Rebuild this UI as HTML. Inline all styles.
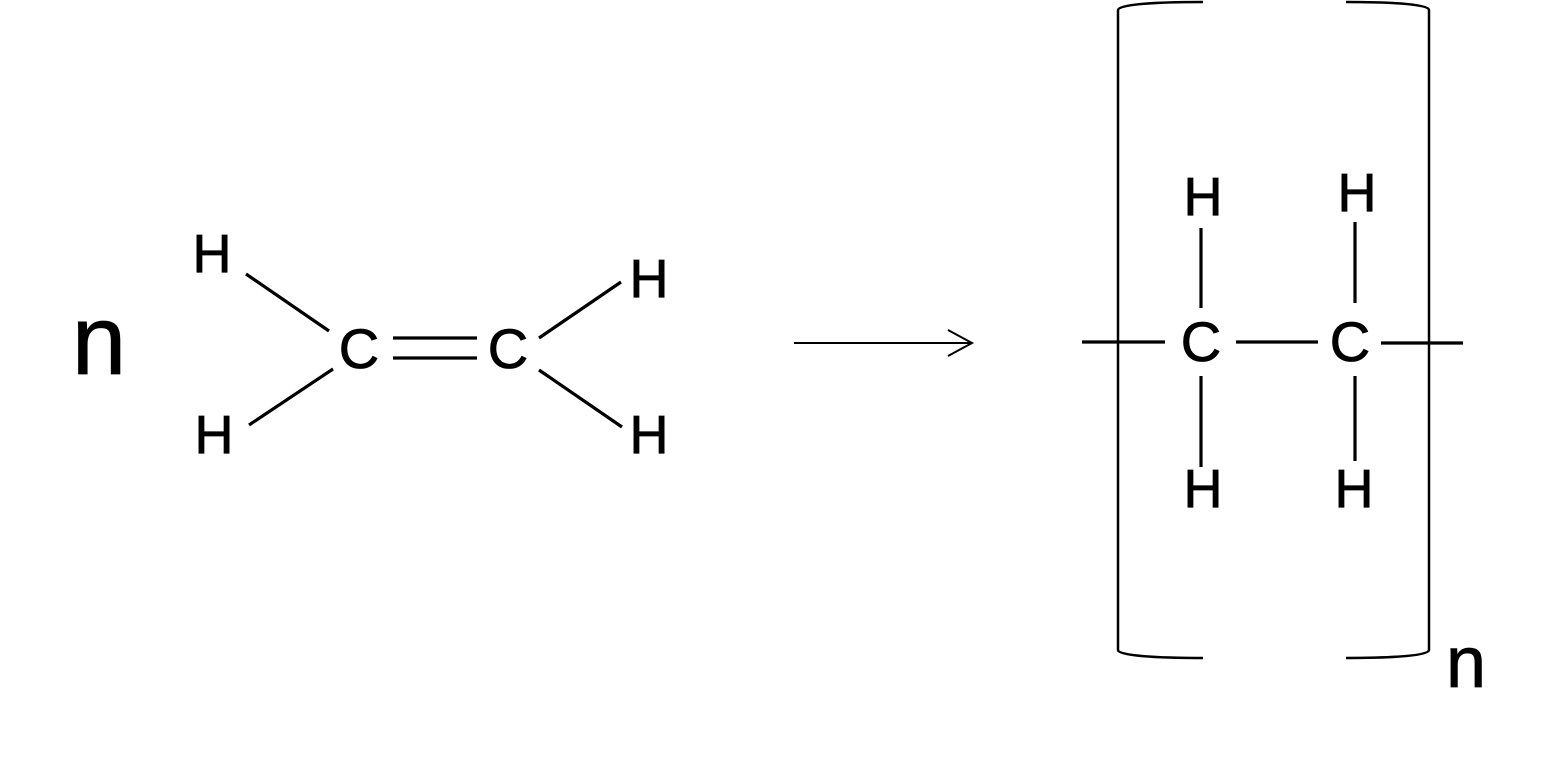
<!DOCTYPE html>
<html><head><meta charset="utf-8"><style>html,body{margin:0;padding:0;background:#fff}svg{display:block}</style></head>
<body>
<svg width="1541" height="760" viewBox="0 0 1541 760" xmlns="http://www.w3.org/2000/svg">
<g font-family="Liberation Sans, sans-serif" fill="#000" stroke="#000" stroke-width="0.8" text-anchor="middle">
<text x="99" y="374" font-size="98">n</text>
<text x="212" y="272" font-size="54">H</text>
<text x="214" y="453" font-size="54">H</text>
<text x="359" y="368" font-size="56">C</text>
<text x="508" y="368" font-size="56">C</text>
<text x="649" y="297" font-size="54">H</text>
<text x="649" y="453" font-size="54">H</text>
<text x="1203" y="215" font-size="54">H</text>
<text x="1357" y="211" font-size="54">H</text>
<text x="1201" y="361" font-size="56">C</text>
<text x="1350" y="361" font-size="56">C</text>
<text x="1203" y="507" font-size="54">H</text>
<text x="1354" y="507" font-size="54">H</text>
<text x="1466" y="687" font-size="72">n</text>
</g>
<g stroke="#000" stroke-width="3.2" fill="none" stroke-linecap="butt">
<line x1="246" y1="274" x2="329" y2="331"/>
<line x1="249" y1="425" x2="333" y2="369"/>
<line x1="393" y1="338" x2="477" y2="338"/>
<line x1="393" y1="358" x2="477" y2="358"/>
<line x1="539" y1="338" x2="621" y2="282"/>
<line x1="539" y1="370" x2="622" y2="427"/>
<line x1="1082" y1="342" x2="1165" y2="342"/>
<line x1="1236" y1="342" x2="1318" y2="342"/>
<line x1="1381" y1="343" x2="1463" y2="343"/>
<line x1="1201" y1="228" x2="1201" y2="308"/>
<line x1="1201" y1="376" x2="1201" y2="467"/>
<line x1="1355" y1="222" x2="1355" y2="303"/>
<line x1="1355" y1="376" x2="1355" y2="461"/>
</g>
<g stroke="#000" stroke-width="2" fill="none">
<line x1="794" y1="343" x2="972" y2="343"/>
<polyline points="948,330 972,343 948,356"/>
</g>
<g stroke="#000" stroke-width="2.5" fill="none">
<path d="M1203,2 C1160,2 1118,4 1118,10 L1118,650 C1118,656 1160,658 1203,658"/>
<path d="M1346,2 C1390,2 1429,4 1429,10 L1429,650 C1429,656 1390,658 1346,658"/>
</g>
</svg>
</body></html>
